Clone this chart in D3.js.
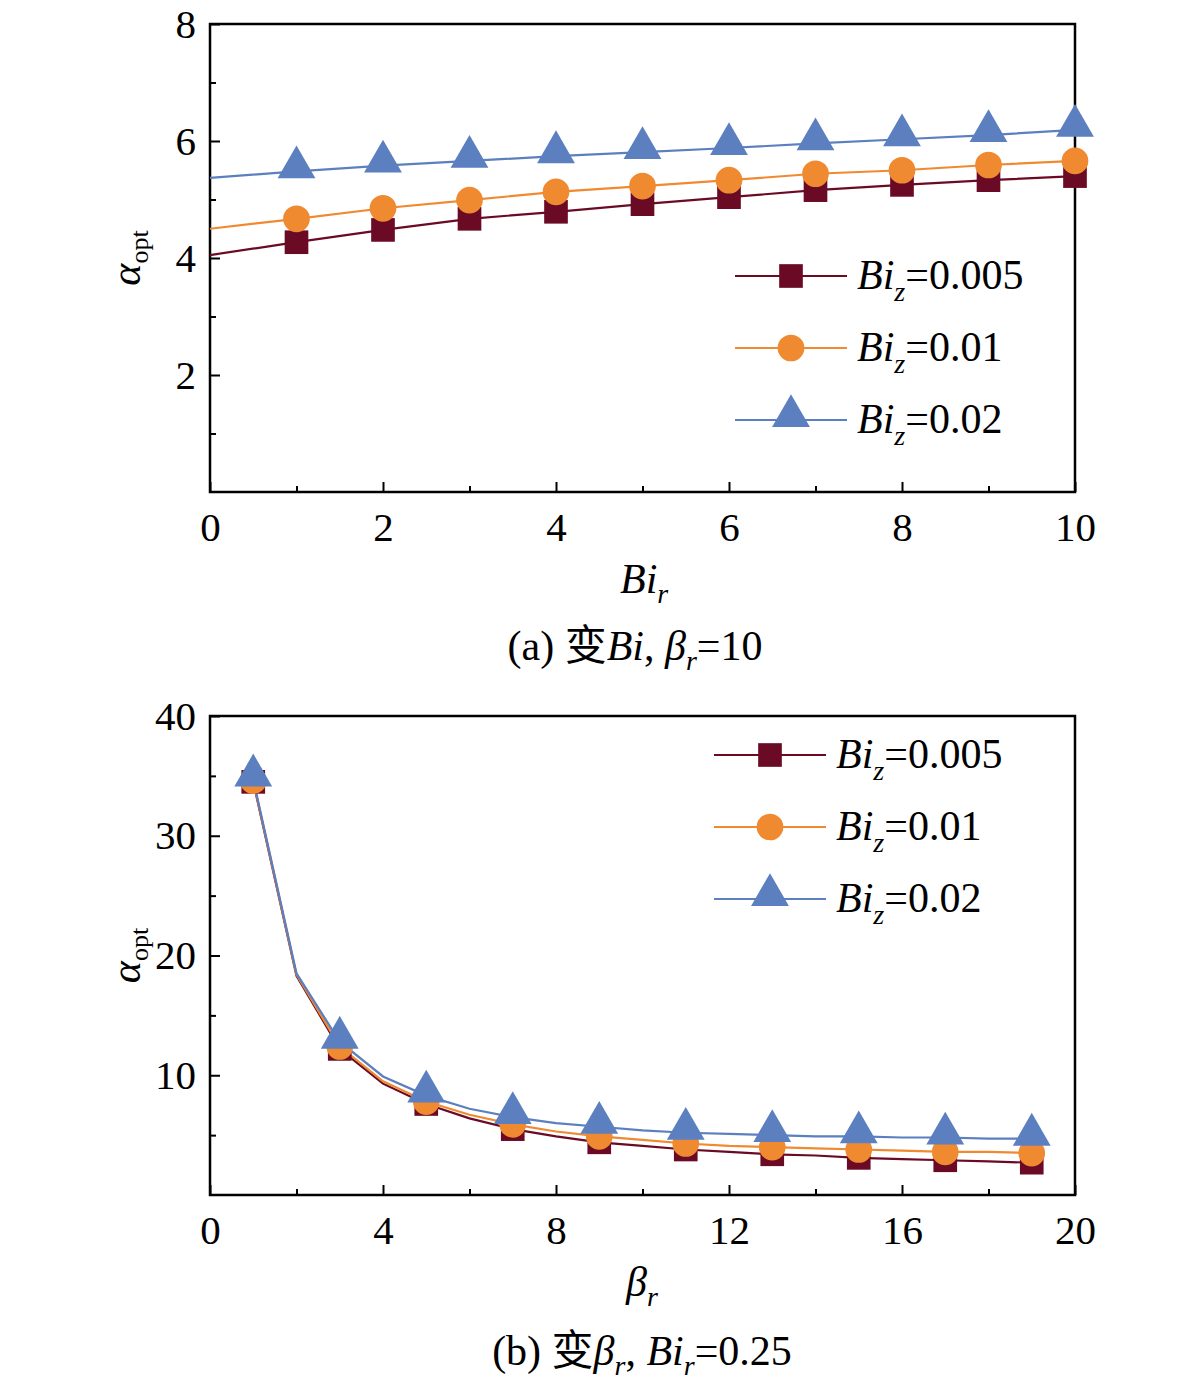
<!DOCTYPE html>
<html><head><meta charset="utf-8">
<script src="https://cdn.jsdelivr.net/npm/d3@7"></script>
<style>body{margin:0;background:#fff}text{font-family:"Liberation Serif","Noto Sans CJK SC",serif;fill:#000}</style>
</head><body><svg id="c" width="1181" height="1388"></svg>
<script>
var seriesNames = ["0.005", "0.01", "0.02"];
var colors = ["#6b0a24", "#f08a30", "#5b7fbf"];
var shapes = [d3.symbolSquare, d3.symbolCircle, d3.symbolTriangle];

// panel (a): Bi_r 0..10
var biR = [0,1,2,3,4,5,6,7,8,9,10];
var aBi005 = [4.05,4.27,4.48,4.67,4.79,4.92,5.04,5.16,5.25,5.33,5.40];
var aBi01  = [4.50,4.67,4.85,4.99,5.13,5.23,5.33,5.44,5.50,5.59,5.66];
var aBi02  = [5.37,5.48,5.58,5.66,5.74,5.81,5.88,5.96,6.03,6.10,6.19];
var aXTicks = [0,2,4,6,8,10];
var aYTicks = [2,4,6,8];

// panel (b): beta_r 1..19
var betaR = d3.range(1,20);
var bBi005 = [34.5,18.3,12.2,9.3,7.6,6.4,5.5,4.9,4.4,4.1,3.8,3.6,3.4,3.3,3.1,3.0,2.9,2.8,2.7];
var bBi01  = [34.6,18.4,12.4,9.5,7.8,6.7,5.9,5.3,4.9,4.6,4.3,4.1,4.0,3.9,3.8,3.7,3.6,3.6,3.5];
var bBi02  = [34.7,18.5,12.8,9.9,8.3,7.2,6.5,6.0,5.7,5.4,5.2,5.1,5.0,4.9,4.9,4.8,4.8,4.7,4.7];
var bXTicks = [0,4,8,12,16,20];
var bYTicks = [10,20,30,40];

var svg = d3.select("#c");

function panel(o){
  var g = svg.append("g");
  var x = d3.scaleLinear().domain(o.xd).range([210,1075]);
  var y = d3.scaleLinear().domain(o.yd).range([o.y0,o.y1]);
  g.append("rect").attr("x",210).attr("y",o.y1).attr("width",865).attr("height",o.y0-o.y1)
    .attr("fill","none").attr("stroke","#000").attr("stroke-width",2.5);
  g.append("g").attr("transform","translate(0,"+o.y0+")")
    .call(d3.axisBottom(x).tickValues(o.xt).tickSize(-10).tickPadding(20).tickFormat(d3.format("d")));
  g.append("g").attr("transform","translate(0,"+o.y0+")")
    .call(d3.axisBottom(x).tickValues(o.xm).tickSize(-6).tickFormat(""));
  g.append("g").attr("transform","translate(210,0)")
    .call(d3.axisLeft(y).tickValues(o.yt).tickSize(-10).tickPadding(14).tickFormat(d3.format("d")));
  g.append("g").attr("transform","translate(210,0)")
    .call(d3.axisLeft(y).tickValues(o.ym).tickSize(-6).tickFormat(""));
  g.selectAll(".domain").remove();
  g.selectAll(".tick line").attr("stroke","#000").attr("stroke-width",2);
  g.selectAll(".tick text").attr("font-size",41).style("font-family","Liberation Serif");

  o.data.forEach(function(s,i){
    g.append("path").datum(s).attr("fill","none").attr("stroke",colors[i]).attr("stroke-width",2.2)
      .attr("d",d3.line().x(function(d,j){return x(o.xs[j]);}).y(function(d){return y(d);}));
  });
  o.data.forEach(function(s,i){
    g.selectAll(null).data(s.map(function(v,j){return [o.xs[j],v];}).filter(function(d){return o.mk(d[0]);}))
      .enter().append("path")
      .attr("transform",function(d){return "translate("+x(d[0])+","+(y(d[1])-(i==2?4:0))+")";})
      .attr("d",d3.symbol().type(shapes[i]).size(i==2?620:560)).attr("fill",colors[i]);
  });
  // legend
  seriesNames.forEach(function(n,i){
    var ly = o.ly + i*72;
    g.append("line").attr("x1",o.lx).attr("x2",o.lx+112).attr("y1",ly).attr("y2",ly)
      .attr("stroke",colors[i]).attr("stroke-width",2.2);
    g.append("path").attr("transform","translate("+(o.lx+56)+","+(ly-(i==2?4:0))+")")
      .attr("d",d3.symbol().type(shapes[i]).size(i==2?620:560)).attr("fill",colors[i]);
    var t = g.append("text").attr("x",o.lx+122).attr("y",ly+13).attr("font-size",42);
    t.append("tspan").attr("font-style","italic").text("Bi");
    t.append("tspan").attr("font-style","italic").attr("font-size",28).attr("dy",12).text("z");
    t.append("tspan").attr("dy",-12).text("="+n);
  });
  // y label
  var yl = g.append("text").attr("transform","translate(140,"+((o.y0+o.y1)/2)+") rotate(-90)")
    .attr("text-anchor","middle").attr("font-size",42);
  yl.append("tspan").attr("font-style","italic").text("α");
  yl.append("tspan").attr("font-size",26).attr("dy",8).text("opt");
  return g;
}

panel({xd:[0,10],yd:[0,8],y0:492,y1:24,xs:biR,data:[aBi005,aBi01,aBi02],
  xt:aXTicks,xm:[1,3,5,7,9],yt:aYTicks,ym:[1,3,5,7],mk:function(v){return v>=1;},lx:735,ly:276});
panel({xd:[0,20],yd:[0,40],y0:1195,y1:716,xs:betaR,data:[bBi005,bBi01,bBi02],
  xt:bXTicks,xm:[2,6,10,14,18],yt:bYTicks,ym:[5,15,25,35],mk:function(v){return v%2==1;},lx:714,ly:755});

// x labels
var t1 = svg.append("text").attr("x",620).attr("y",593).attr("font-size",42);
t1.append("tspan").attr("font-style","italic").text("Bi");
t1.append("tspan").attr("font-style","italic").attr("font-size",28).attr("dy",10).text("r");
var t2 = svg.append("text").attr("x",626).attr("y",1296).attr("font-size",42);
t2.append("tspan").attr("font-style","italic").text("β");
t2.append("tspan").attr("font-style","italic").attr("font-size",28).attr("dy",10).text("r");

// captions
var c1 = svg.append("text").attr("x",635).attr("y",660).attr("text-anchor","middle").attr("font-size",42);
c1.append("tspan").text("(a) 变");
c1.append("tspan").attr("font-style","italic").text("Bi");
c1.append("tspan").text(", ");
c1.append("tspan").attr("font-style","italic").text("β");
c1.append("tspan").attr("font-style","italic").attr("font-size",28).attr("dy",10).text("r");
c1.append("tspan").attr("dy",-10).text("=10");
var c2 = svg.append("text").attr("x",642).attr("y",1365).attr("text-anchor","middle").attr("font-size",42);
c2.append("tspan").text("(b) 变");
c2.append("tspan").attr("font-style","italic").text("β");
c2.append("tspan").attr("font-style","italic").attr("font-size",28).attr("dy",10).text("r");
c2.append("tspan").attr("dy",-10).text(", ");
c2.append("tspan").attr("font-style","italic").text("Bi");
c2.append("tspan").attr("font-style","italic").attr("font-size",28).attr("dy",10).text("r");
c2.append("tspan").attr("dy",-10).text("=0.25");
</script></body></html>
